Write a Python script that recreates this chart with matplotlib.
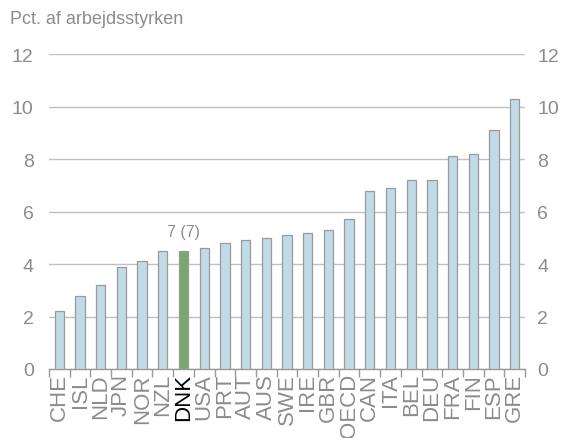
import matplotlib
matplotlib.use("Agg")
import matplotlib.pyplot as plt
import numpy as np

categories = ["CHE", "ISL", "NLD", "JPN", "NOR", "NZL", "DNK", "USA", "PRT", "AUT", "AUS",
              "SWE", "IRE", "GBR", "OECD", "CAN", "ITA", "BEL", "DEU", "FRA", "FIN", "ESP", "GRE"]
values = [2.2, 2.8, 3.2, 3.9, 4.1, 4.5, 4.5, 4.6, 4.8, 4.9, 5.0,
          5.1, 5.2, 5.3, 5.7, 6.8, 6.9, 7.2, 7.2, 8.1, 8.2, 9.1, 10.3]
highlight = "DNK"
annotation = "7 (7)"
yticks = [0, 2, 4, 6, 8, 10, 12]
ylabel = "Pct. af arbejdsstyrken"

plt.rcParams['font.family'] = ['Liberation Sans', 'DejaVu Sans']
gray = "#8c8c8c"

fig = plt.figure(figsize=(5.67, 4.39), dpi=100)
ax = fig.add_axes([49/567, 1 - 370/439, 476/567, 315/439])

x = np.arange(len(categories))
colors = ["#75a96e" if c == highlight else "#c0dbe7" for c in categories]
ax.bar(x, values, width=0.45, color=colors, edgecolor="#9a9a9a", linewidth=0.9, zorder=3)

ax.set_xlim(-0.5, len(categories) - 0.5)
ax.set_ylim(0, 12)
ax.set_yticks(yticks)
ax.yaxis.grid(True, color="#c0c0c0", linewidth=1.0, zorder=0)
ax.set_axisbelow(True)

for s in ["top", "left", "right"]:
    ax.spines[s].set_visible(False)
ax.spines["bottom"].set_color("#999999")
ax.spines["bottom"].set_linewidth(1.0)

ax.tick_params(axis="y", length=0, labelsize=14, labelcolor=gray, pad=11,
               left=False, right=False, labelleft=True, labelright=False)

ax2 = ax.twinx()
ax2.set_ylim(ax.get_ylim())
ax2.set_yticks(yticks)
ax2.tick_params(axis="y", length=0, labelsize=14, labelcolor=gray, pad=9,
                left=False, right=False, labelleft=False, labelright=True)
for s in ax2.spines.values():
    s.set_visible(False)

ax.set_xticks(x)
ax.set_xticklabels(categories, rotation=90, fontsize=16, color=gray)
ax.tick_params(axis="x", length=0, pad=3)
ax.set_xticks(np.arange(-0.5, len(categories)), minor=True)
ax.tick_params(axis="x", which="minor", length=6, color="#999999", width=1.0)
for lbl, c in zip(ax.get_xticklabels(), categories):
    if c == highlight:
        lbl.set_color("black")

i = categories.index(highlight)
ax.text(x[i], values[i] + 0.45, annotation, ha="center", va="bottom", fontsize=11.5, color=gray)

fig.text(10/567, 1 - 20/439, ylabel, ha="left", va="center", fontsize=13, color=gray)

fig.savefig("out.png", dpi=100)
